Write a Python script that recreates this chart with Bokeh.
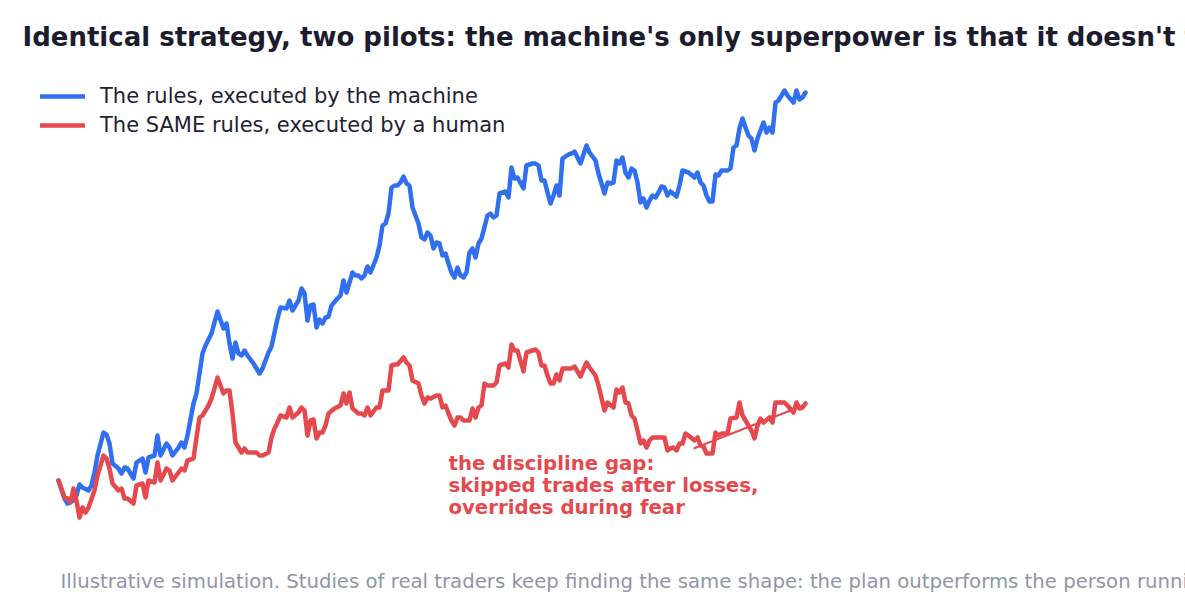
from bokeh.plotting import figure
from bokeh.models import Range1d, Legend, LegendItem, Label, Arrow
from bokeh.embed import file_html
from bokeh.resources import INLINE

# Equity curves (growth of 100) for one rule set, traded by a machine and by a human
machine_day = [0, 2, 3, 5, 6, 7, 8, 10, 11, 12, 13, 15, 16, 17, 18, 20, 21, 22, 23, 25,
               26, 28, 29, 30, 32, 33, 34, 36, 37, 38, 40, 41, 42, 43, 45, 46, 48, 49, 51, 52,
               53, 55, 56, 57, 58, 59, 60, 61, 62, 63, 65, 66, 67, 68, 70, 71, 72, 73, 74, 76,
               77, 78, 80, 81, 82, 83, 84, 85, 86, 87, 88, 89, 90, 91, 93, 94, 95, 96, 98, 99,
               100, 101, 102, 103, 104, 106, 107, 108, 109, 110, 111, 112, 113, 114, 115, 116,
               117, 118, 120, 121, 122, 123, 124, 125, 126, 127, 128, 129, 130, 131, 132, 133,
               134, 135, 136, 137, 138, 139, 140, 141, 143, 144, 145, 146, 147, 149, 150, 151,
               152, 153, 155, 156, 158, 159, 160, 161, 162, 163, 164, 165, 166, 167, 168, 170,
               171, 172, 174, 176, 177, 179, 180, 182, 183, 184, 185, 186, 187, 188, 189, 190,
               191, 192, 193, 194, 195, 196, 197, 198, 199, 200, 201, 202, 203, 204, 206, 207,
               208, 210, 212, 213, 214, 215, 216, 217, 218, 219, 220, 221, 223, 224, 225, 226,
               227, 228, 229, 230, 231, 232, 233, 234, 235, 236, 237, 238, 239, 240, 242, 243,
               245, 246, 247, 248, 249]
machine_value = [100.0, 92.8, 90.8, 92.0, 94.0, 98.4, 97.2, 96.0, 98.0, 103.2, 110.0, 119.2,
                 118.4, 114.8, 106.8, 104.8, 102.8, 105.2, 104.8, 100.8, 107.2, 108.8, 103.2,
                 109.2, 110.0, 118.0, 110.0, 114.8, 113.2, 110.0, 113.2, 115.2, 113.2, 118.0,
                 130.8, 134.8, 150.8, 154.0, 158.8, 163.2, 167.6, 160.8, 162.8, 154.8, 148.8,
                 155.2, 150.8, 150.0, 152.0, 150.0, 146.8, 144.8, 142.8, 144.8, 151.2, 153.6,
                 159.2, 164.8, 169.2, 168.8, 172.0, 168.0, 172.0, 176.8, 174.8, 164.0, 170.0,
                 170.4, 161.2, 164.4, 162.8, 165.2, 165.6, 170.0, 172.8, 174.0, 180.0, 175.2,
                 183.2, 182.0, 182.0, 180.8, 182.0, 185.6, 183.2, 189.2, 194.0, 202.0, 202.8,
                 206.8, 217.2, 218.0, 218.0, 219.2, 221.6, 218.8, 218.0, 209.2, 202.8, 197.2,
                 196.4, 199.2, 198.0, 192.8, 195.2, 194.8, 190.0, 190.8, 186.8, 183.2, 181.2,
                 185.2, 182.0, 181.2, 183.2, 191.2, 192.8, 189.2, 194.8, 196.8, 206.0, 206.8,
                 205.2, 206.0, 214.8, 215.6, 213.2, 225.2, 220.8, 221.2, 216.8, 226.0, 226.8,
                 226.8, 226.0, 220.0, 220.0, 215.2, 210.8, 214.0, 218.0, 214.0, 228.8, 230.4,
                 230.8, 231.6, 226.8, 234.0, 231.2, 228.0, 222.8, 214.8, 219.2, 218.8, 219.2,
                 228.0, 226.8, 229.2, 223.2, 221.2, 224.8, 224.0, 219.2, 211.2, 212.8, 209.2,
                 212.0, 214.0, 213.2, 215.2, 217.6, 217.2, 214.0, 215.6, 213.6, 218.0, 224.0,
                 223.2, 221.2, 223.2, 219.2, 218.0, 214.0, 211.6, 211.6, 222.4, 222.0, 224.0,
                 224.0, 224.8, 233.2, 234.0, 240.8, 244.8, 241.2, 238.0, 236.8, 232.0, 236.8,
                 240.0, 243.2, 239.2, 241.2, 239.2, 251.2, 252.0, 256.0, 254.0, 251.2, 256.0,
                 252.4, 253.2, 255.2]

human_day = [0, 2, 3, 4, 5, 6, 7, 8, 9, 10, 12, 13, 15, 16, 17, 18, 20, 21, 22, 23, 25, 26,
             28, 29, 30, 32, 33, 34, 36, 37, 38, 40, 41, 42, 43, 45, 46, 47, 48, 50, 51, 52,
             53, 55, 56, 57, 58, 59, 61, 62, 63, 66, 67, 68, 70, 71, 72, 73, 74, 76, 77, 78,
             80, 81, 82, 83, 84, 85, 86, 87, 88, 89, 90, 92, 94, 95, 96, 97, 98, 100, 101,
             102, 103, 104, 106, 107, 108, 110, 111, 112, 113, 115, 116, 117, 118, 120, 121,
             122, 123, 124, 126, 127, 128, 129, 130, 131, 132, 133, 134, 135, 136, 137, 138,
             139, 140, 141, 142, 143, 145, 146, 147, 149, 150, 151, 152, 153, 155, 156, 158,
             159, 160, 161, 162, 163, 164, 165, 166, 167, 168, 170, 171, 172, 174, 176, 177,
             179, 180, 182, 183, 185, 186, 187, 188, 189, 190, 191, 192, 193, 194, 195, 196,
             197, 198, 200, 202, 203, 204, 205, 206, 207, 208, 209, 210, 212, 213, 214, 215,
             216, 218, 219, 220, 221, 223, 224, 226, 227, 228, 230, 231, 232, 233, 234, 235,
             237, 238, 239, 242, 243, 245, 246, 247, 248, 249]
human_value = [100.0, 93.2, 92.8, 91.2, 96.8, 92.0, 85.2, 89.2, 87.2, 89.2, 96.0, 102.0,
               110.0, 108.8, 104.8, 98.8, 96.0, 96.8, 92.8, 92.8, 90.8, 98.0, 98.8, 93.2,
               100.0, 99.2, 107.2, 100.0, 104.8, 104.0, 100.0, 103.2, 104.8, 104.0, 108.0,
               108.8, 117.2, 125.2, 126.0, 130.0, 132.8, 136.8, 141.2, 134.8, 136.0, 136.0,
               126.8, 115.2, 111.2, 112.8, 111.2, 111.2, 110.0, 110.0, 111.2, 117.2, 120.8,
               123.2, 126.0, 125.2, 129.2, 125.2, 127.2, 129.2, 128.0, 118.0, 124.0, 124.4,
               116.8, 119.2, 119.2, 122.0, 126.8, 128.8, 130.0, 134.8, 130.8, 135.2, 128.8,
               126.8, 126.8, 126.0, 129.2, 126.0, 129.2, 129.2, 136.0, 136.0, 146.0, 146.4,
               146.4, 149.2, 147.2, 146.0, 140.0, 138.8, 134.0, 130.8, 133.2, 132.8, 134.0,
               134.0, 129.2, 130.0, 126.8, 124.0, 122.0, 125.2, 125.2, 124.0, 124.0, 124.0,
               128.8, 125.2, 129.2, 130.0, 138.8, 138.0, 138.0, 139.2, 146.0, 146.8, 145.2,
               154.4, 152.0, 152.0, 143.6, 151.2, 152.0, 152.4, 151.2, 146.0, 146.0, 142.0,
               138.8, 138.8, 142.4, 140.0, 144.8, 144.8, 144.8, 145.6, 141.6, 147.2, 145.2,
               142.0, 138.0, 128.0, 131.2, 129.2, 136.4, 135.2, 137.2, 131.2, 130.8, 126.0,
               124.8, 120.0, 114.8, 116.0, 113.2, 116.0, 117.2, 117.2, 117.2, 112.0, 112.8,
               113.2, 112.0, 114.8, 114.8, 118.8, 118.0, 116.0, 117.2, 114.0, 113.6, 110.8,
               110.8, 119.2, 118.0, 118.8, 118.8, 124.8, 125.2, 131.2, 126.0, 122.0, 120.0,
               116.8, 122.0, 124.8, 123.2, 125.2, 123.2, 131.2, 131.2, 130.0, 127.2, 131.2,
               128.8, 129.2, 130.8]

series_labels = ["The rules, executed by the machine", "The SAME rules, executed by a human"]
series_colors = ["#2f6ff0", "#e5484d"]

title_text = ("Identical strategy, two pilots: the machine's only superpower is that it "
              "doesn't flinch")
note_text = "the discipline gap:\nskipped trades after losses,\noverrides during fear"
caption_text = ("Illustrative simulation. Studies of real traders keep finding the same shape: "
                "the plan outperforms the person running it.")

FONT = "DejaVu Sans"
W, H = 1185, 615

p = figure(width=W, height=H, x_axis_type=None, y_axis_type=None,
           toolbar_location=None, output_backend="svg", title_location=None,
           min_border=0, min_border_left=0, min_border_right=0,
           min_border_top=0, min_border_bottom=0)
p.x_range = Range1d(-19.333, 375.667)
p.y_range = Range1d(46, 292)
p.outline_line_color = None
p.background_fill_color = "white"
p.border_fill_color = "white"

r_machine = p.line(machine_day, machine_value, line_color=series_colors[0], line_width=4.5,
                   line_join="round", line_cap="round")
r_human = p.line(human_day, human_value, line_color=series_colors[1], line_width=4.5,
                 line_join="round", line_cap="round")

legend = Legend(items=[LegendItem(label=series_labels[0], renderers=[r_machine]),
                       LegendItem(label=series_labels[1], renderers=[r_human])],
                location=(40, 478), padding=0, margin=0, spacing=5,
                glyph_width=45, glyph_height=24, label_standoff=15,
                label_text_font=FONT, label_text_font_size="21px",
                label_text_color="#1f2233", border_line_color=None,
                background_fill_alpha=0)
p.add_layout(legend)

# pointer from the note to the human curve's final value
p.add_layout(Arrow(x_start=211.7, y_start=112.8, x_end=human_day[-1] - 0.3,
                   y_end=human_value[-1] - 0.6, end=None,
                   line_color=series_colors[1], line_width=2))

p.add_layout(Label(x=130, y=111.6, text=note_text, text_font=FONT,
                   text_font_size="19.7px", text_font_style="bold",
                   text_color=series_colors[1], text_baseline="top",
                   text_line_height=0.96))

p.add_layout(Label(x=22, y=H - 36, x_units="screen", y_units="screen", text=title_text,
                   text_font=FONT, text_font_size="26px", text_font_style="bold",
                   text_color="#1c1c2e", text_baseline="alphabetic"))

p.add_layout(Label(x=60, y=H - 581, x_units="screen", y_units="screen", text=caption_text,
                   text_font=FONT, text_font_size="19.7px", text_color="#8e96a8",
                   text_baseline="alphabetic"))

open("out.html", "w").write(file_html(p, INLINE))
